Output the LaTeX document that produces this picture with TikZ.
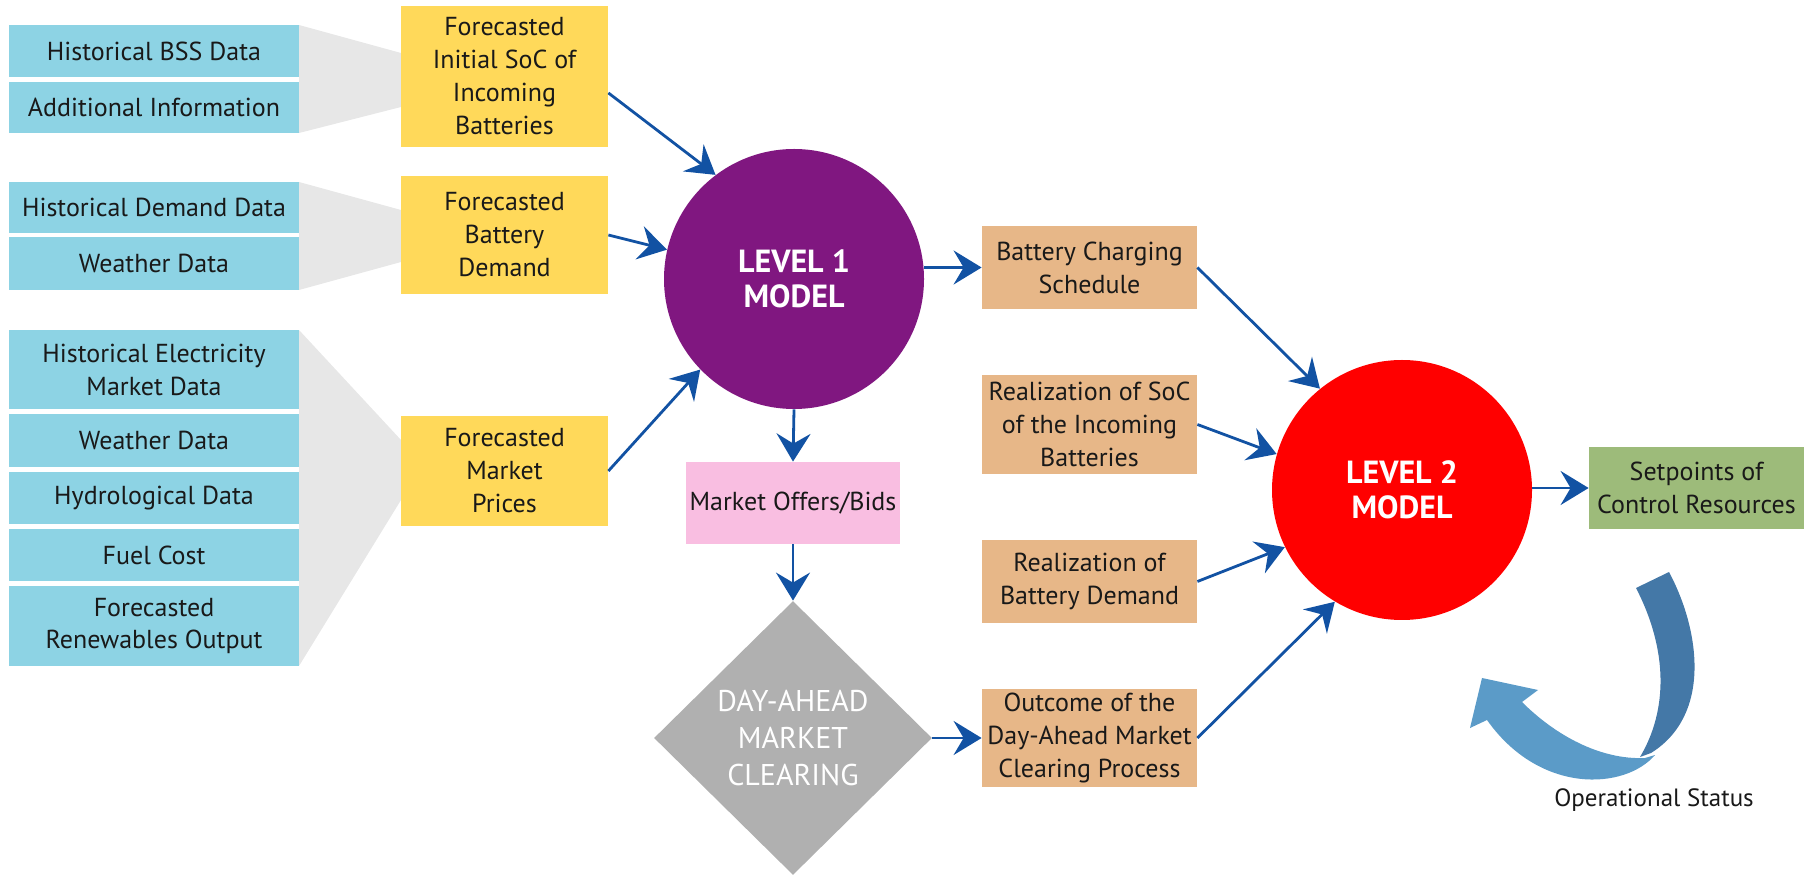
\documentclass[tikz,border=0pt]{standalone}
\usepackage{fontspec}
\setmainfont{PT Sans}
\usetikzlibrary{arrows.meta,shapes.geometric}
\definecolor{cyanbox}{RGB}{141,211,228}
\definecolor{yellowbox}{RGB}{255,217,90}
\definecolor{orangebox}{RGB}{231,183,136}
\definecolor{pinkbox}{RGB}{249,190,225}
\definecolor{greenbox}{RGB}{157,187,122}
\definecolor{purplelvl}{RGB}{128,23,128}
\definecolor{graydam}{RGB}{176,176,176}
\definecolor{funnelgray}{RGB}{231,231,231}
\definecolor{arrowblue}{RGB}{18,82,163}
\definecolor{ribbondark}{RGB}{68,120,167}
\definecolor{ribbonlight}{RGB}{91,155,200}

\begin{document}
\begin{tikzpicture}[x=0.5pt,y=-0.5pt,
  box/.style={align=center, inner sep=0pt, text=black!90, font=\fontsize{13}{16.5}\selectfont},
  datbox/.style={box, fill=cyanbox, minimum width=145pt},
  fcbox/.style={box, fill=yellowbox, minimum width=103.5pt},
  resbox/.style={box, fill=orangebox, minimum width=107.5pt},
  model/.style={circle, minimum size=130pt, inner sep=0pt, align=center, text=white, font=\fontsize{16}{17.5}\selectfont\bfseries},
  arr/.style={draw=arrowblue, line width=1.4pt, -{Stealth[length=14pt,width=17pt,inset=5pt]}}]
\useasboundingbox (0,0) rectangle (1810,876);

%Shape: funnels behind the data boxes
\fill[funnelgray] (299,25) -- (401,53) -- (401,107) -- (299,133) -- cycle;
\fill[funnelgray] (299,182) -- (401,210) -- (401,262) -- (299,290) -- cycle;
\fill[funnelgray] (299,330) -- (401,440) -- (401,500) -- (299,666) -- cycle;

% Input data
\node[datbox, minimum height=26pt] (bss) at (154,51) {Historical BSS Data};
\node[datbox, minimum height=25.5pt] (addinfo) at (154,107.5) {Additional Information};
\node[datbox, minimum height=25.5pt] (hdem) at (154,207.5) {Historical Demand Data};
\node[datbox, minimum height=26.5pt] (weaA) at (154,263.5) {Weather Data};
\node[datbox, minimum height=39.5pt] (hmkt) at (154,369.5) {Historical Electricity\\Market Data};
\node[datbox, minimum height=26.5pt] (weaB) at (154,440.5) {Weather Data};
\node[datbox, minimum height=26pt] (hydro) at (154,498) {Hydrological Data};
\node[datbox, minimum height=26pt] (fuel) at (154,555) {Fuel Cost};
\node[datbox, minimum height=40pt] (renew) at (154,626) {Forecasted\\Renewables Output};

% Forecasts
\node[fcbox, minimum height=70.5pt] (fsoc) at (504.5,76.5) {Forecasted\\Initial SoC of\\Incoming\\Batteries};
\node[fcbox, minimum height=59pt] (fdem) at (504.5,235) {Forecasted\\Battery\\Demand};
\node[fcbox, minimum height=55pt] (fprice) at (504.5,471) {Forecasted\\Market\\Prices};

% Models
\node[model, fill=purplelvl] (lvl1) at (794,279) {LEVEL 1\\MODEL};
\node[model, fill=red] (lvl2) at (1402,490) {LEVEL 2\\MODEL};

% Market
\node[box, fill=pinkbox, minimum width=107pt, minimum height=41pt] (offers) at (793,503) {Market Offers/Bids};
\node[diamond, fill=graydam, minimum width=139pt, minimum height=137pt, inner sep=0pt, align=center, text=white, font=\fontsize{15}{18.5}\selectfont] (dam) at (793,738) {DAY-AHEAD\\MARKET\\CLEARING};

% Realizations
\node[resbox, minimum height=41.5pt] (bcs) at (1089.5,267.5) {Battery Charging\\Schedule};
\node[resbox, minimum height=49.5pt] (rsoc) at (1089.5,424.5) {Realization of SoC\\of the Incoming\\Batteries};
\node[resbox, minimum height=41.5pt] (rdem) at (1089.5,581.5) {Realization of\\Battery Demand};
\node[resbox, minimum height=49pt] (outc) at (1089.5,738) {Outcome of the\\Day-Ahead Market\\Clearing Process};

\node[box, fill=greenbox, minimum width=107.5pt, minimum height=41pt] (setp) at (1696.5,488) {Setpoints of\\Control Resources};

% Connectors
\draw[arr] (fsoc.-9) -- (lvl1.127);
\draw[arr] (fdem.east) -- (lvl1.167);
\draw[arr] (fprice.east) -- (lvl1.224);
\draw[arr] (lvl1.east |- bcs.west) -- (bcs.west);
\draw[arr] (lvl1.south) -- (offers.north);
\draw[arr] (offers.south) -- (dam.north);
\draw[arr] (dam.east) -- (outc.west);
\draw[arr] (bcs.east) -- (lvl2.129);
\draw[arr] (rsoc.east) -- (lvl2.164);
\draw[arr] (rdem.east) -- (lvl2.206);
\draw[arr] (outc.east) -- (lvl2.239);
\draw[arr] (setp.west -| lvl2.east) -- (setp.west);

%Shape: feedback ribbon
\fill[ribbondark] (1636,588) -- (1669,572) .. controls (1700,630) and (1712,715) .. (1651,753) -- (1640,757) .. controls (1668,710) and (1668,650) .. (1636,588) -- cycle;
\fill[ribbonlight] (1522,702) .. controls (1555,735) and (1600,760) .. (1645,758) -- (1655,755) .. controls (1625,790) and (1540,795) .. (1487,720) -- (1470,728) -- (1482,678) -- (1538,690) -- cycle;
\node[font=\fontsize{12.5}{15}\selectfont, text=black!90] (opstat) at (1654,800) {Operational Status};

\end{tikzpicture}
\end{document}
